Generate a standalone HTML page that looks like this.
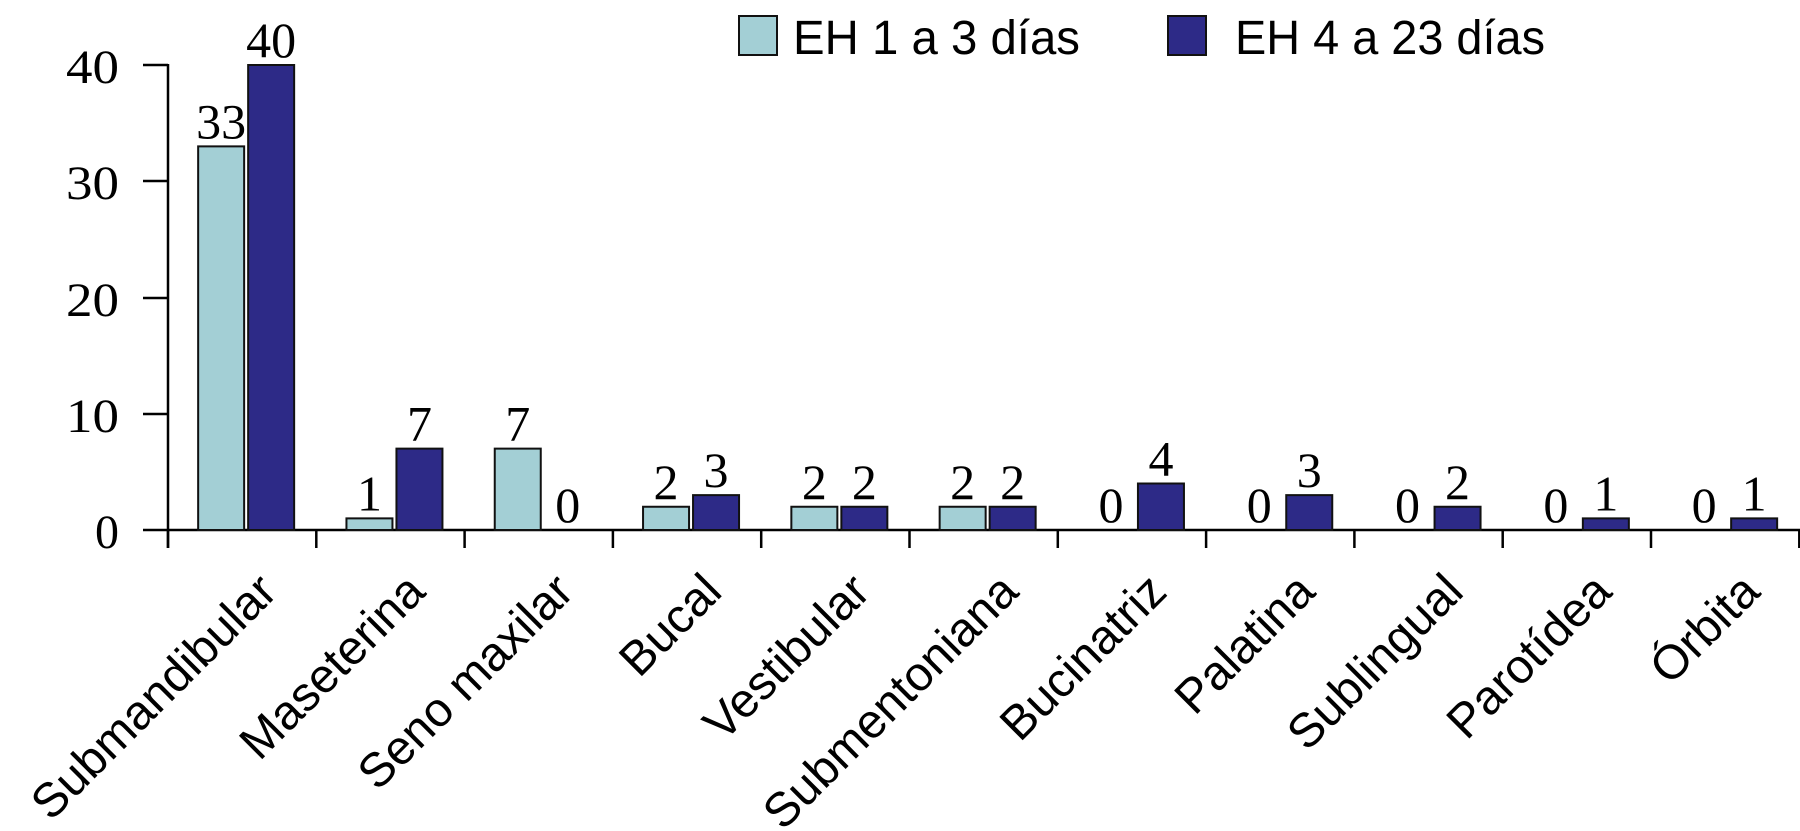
<!DOCTYPE html>
<html><head><meta charset="utf-8"><style>
html,body{margin:0;padding:0;background:#fff;}
svg{display:block;}
</style></head><body>
<svg width="1800" height="831" viewBox="0 0 1800 831" xmlns="http://www.w3.org/2000/svg">
<g stroke="#000" stroke-width="2.5" fill="none">
<line x1="168" y1="64" x2="168" y2="548"/>
<line x1="143" y1="65" x2="168" y2="65"/>
<line x1="143" y1="181" x2="168" y2="181"/>
<line x1="143" y1="298" x2="168" y2="298"/>
<line x1="143" y1="414" x2="168" y2="414"/>
<line x1="143" y1="530" x2="1800" y2="530"/>
</g>
<g stroke="#000" stroke-width="2.5" id="xt"></g>
<g font-family="Liberation Serif, serif" font-size="48" text-anchor="end">
<text x="119" y="83" textLength="53" lengthAdjust="spacingAndGlyphs">40</text>
<text x="119" y="199" textLength="53" lengthAdjust="spacingAndGlyphs">30</text>
<text x="119" y="316" textLength="53" lengthAdjust="spacingAndGlyphs">20</text>
<text x="119" y="432" textLength="53" lengthAdjust="spacingAndGlyphs">10</text>
<text x="119" y="548">0</text>
</g>
<g id="bars"></g>
<g id="vals" font-family="Liberation Serif, serif" font-size="50" text-anchor="middle"></g>
<g id="cats" font-family="Liberation Sans, sans-serif" font-size="48" text-anchor="end"></g>
<rect x="739" y="16" width="38" height="39" fill="#a3cfd5" stroke="#111" stroke-width="2"/>
<text x="793" y="54" font-family="Liberation Sans, sans-serif" font-size="48" textLength="287" lengthAdjust="spacingAndGlyphs">EH 1 a 3 días</text>
<rect x="1168" y="16" width="38" height="39" fill="#2d2a87" stroke="#111" stroke-width="2"/>
<text x="1235" y="54" font-family="Liberation Sans, sans-serif" font-size="48" textLength="310" lengthAdjust="spacingAndGlyphs">EH 4 a 23 días</text>
</svg>
<script>
var ns="http://www.w3.org/2000/svg";
var cats=["Submandibular","Maseterina","Seno maxilar","Bucal","Vestibular","Submentoniana","Bucinatriz","Palatina","Sublingual","Parotídea","Órbita"];
var a=[33,1,7,2,2,2,0,0,0,0,0];
var b=[40,7,0,3,2,2,4,3,2,1,1];
var sp=148.3,base=530,k=11.625;
function el(t,at,p,txt){var e=document.createElementNS(ns,t);for(var q in at)e.setAttribute(q,at[q]);if(txt!==undefined)e.textContent=txt;document.getElementById(p).appendChild(e);}
for(var i=0;i<=11;i++){var x=168+sp*i;el("line",{x1:x,y1:530,x2:x,y2:548},"xt");}
for(var i=0;i<11;i++){
var c=168+sp*(i+0.5);
var lx=c-44,dx=c+6,w=46;
if(a[i]>0)el("rect",{x:lx,y:base-a[i]*k,width:w,height:a[i]*k,fill:"#a3cfd5",stroke:"#111","stroke-width":2},"bars");
if(b[i]>0)el("rect",{x:dx,y:base-b[i]*k,width:w,height:b[i]*k,fill:"#2d2a87",stroke:"#111","stroke-width":2},"bars");
el("text",{x:lx+w/2,y:base-a[i]*k-8},"vals",String(a[i]));
el("text",{x:dx+w/2,y:base-b[i]*k-8},"vals",String(b[i]));
var tx=c+37,ty=594;
el("text",{x:tx,y:ty,transform:"rotate(-45 "+tx+" "+ty+")"},"cats",cats[i]);
}
</script>
</body></html>
